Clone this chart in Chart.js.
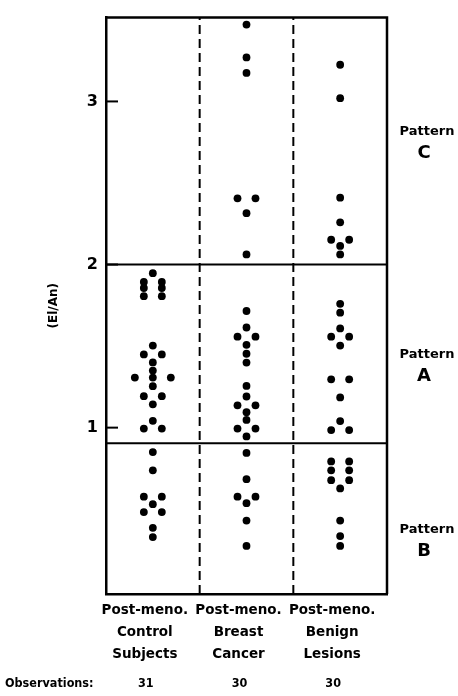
<!DOCTYPE html>
<html>
<head>
<meta charset="utf-8">
<script src="https://cdn.jsdelivr.net/npm/chart.js@4"></script>
<style>
  html, body { margin:0; padding:0; background:#fff; }
</style>
</head>
<body>
<canvas id="chart" width="458" height="696"></canvas>
<script>
// ---- values ----
const GROUPS = [
  ["Post-meno.", "Control", "Subjects"],
  ["Post-meno.", "Breast", "Cancer"],
  ["Post-meno.", "Benign", "Lesions"]
];
const OBSERVATIONS = [31, 30, 30];

// El/An ratio per subject (equal values sit side by side in a row)
const CONTROL = [1.947, 1.893, 1.893, 1.856, 1.856, 1.806, 1.806,
  1.503, 1.449, 1.449, 1.400, 1.350, 1.307, 1.307, 1.307, 1.254, 1.193, 1.193,
  1.143, 1.042, 0.994, 0.994,
  0.850, 0.738, 0.577, 0.577, 0.531, 0.482, 0.482, 0.386, 0.329];
const CANCER = [3.471, 3.270, 3.175, 2.406, 2.406, 2.315, 2.062,
  1.715, 1.614, 1.558, 1.558, 1.508, 1.453, 1.399, 1.256, 1.191, 1.137, 1.137,
  1.095, 1.047, 0.994, 0.994, 0.946,
  0.845, 0.684, 0.577, 0.577, 0.537, 0.430, 0.275];
const BENIGN = [3.225, 3.020, 2.410, 2.259, 2.152, 2.152, 2.114, 2.062,
  1.759, 1.705, 1.608, 1.558, 1.558, 1.503, 1.296, 1.296, 1.185, 1.040, 0.985, 0.985,
  0.793, 0.793, 0.738, 0.738, 0.678, 0.678, 0.627, 0.430, 0.335, 0.275];

const Y_TICKS = [1, 2, 3];
const PATTERN_CUTS = [0.905, 2];           // B | A | C boundaries
const PATTERNS = ["C", "A", "B"];
const PATTERN_AT = [2.75, 1.38, 0.31];     // where each pattern name sits

// ---- axis bounds ----
const X_MIN = -0.5, X_MAX = GROUPS.length - 0.5;
const Y_MIN = -0.02, Y_MAX = 3.514;
const SLOT = 0.096;   // side-by-side spacing of equal values

const FONT = "'DejaVu Sans', 'Liberation Sans', sans-serif";
const FONT_NARROW = "'DejaVu Sans Condensed', 'DejaVu Sans', sans-serif";

// spread equal values of a row across the column
function dotsFor(vals, col){
  const out = [];
  let i = 0;
  while (i < vals.length){
    let j = i;
    while (j < vals.length && vals[j] === vals[i]) j++;
    const n = j - i;
    const slots = n === 1 ? [0] : n === 2 ? [-1, 1] : [-2, 0, 2];
    for (let k = 0; k < n; k++) out.push({ x: col + slots[k] * SLOT, y: vals[i] });
    i = j;
  }
  return out;
}

const dotSet = (vals, col) => ({
  data: dotsFor(vals, col),
  backgroundColor: "#000", borderColor: "#000", borderWidth: 0,
  pointRadius: 3.9, pointHoverRadius: 3.9, showLine: false
});

const datasets = [
  dotSet(CONTROL, 0),
  dotSet(CANCER, 1),
  dotSet(BENIGN, 2)
];

// dashed dividers between groups
for (let i = 0; i < GROUPS.length - 1; i++){
  datasets.push({
    data: [{ x: i + 0.5, y: Y_MIN }, { x: i + 0.5, y: Y_MAX }],
    showLine: true, borderColor: "#000", borderWidth: 2, borderDash: [9, 5],
    pointRadius: 0
  });
}
// solid pattern boundaries
PATTERN_CUTS.forEach(c => {
  datasets.push({
    data: [{ x: X_MIN, y: c }, { x: X_MAX, y: c }],
    showLine: true, borderColor: "#000", borderWidth: 2, pointRadius: 0
  });
});

// frame, inward ticks, pattern names and observation counts
const extras = {
  id: "extras",
  afterDraw(chart){
    const { ctx, chartArea: a, scales: { x, y } } = chart;
    ctx.save();
    ctx.strokeStyle = "#000";
    ctx.lineWidth = 2.5;
    ctx.beginPath();
    ctx.moveTo(a.left, a.top); ctx.lineTo(a.right, a.top); ctx.lineTo(a.right, a.bottom);
    ctx.stroke();

    ctx.lineWidth = 2;
    Y_TICKS.forEach(t => {
      const py = y.getPixelForValue(t);
      ctx.beginPath(); ctx.moveTo(a.left, py); ctx.lineTo(a.left + 12, py); ctx.stroke();
    });

    ctx.fillStyle = "#000";
    ctx.textAlign = "center";
    ctx.textBaseline = "middle";
    PATTERNS.forEach((p, i) => {
      const py = y.getPixelForValue(PATTERN_AT[i]);
      ctx.font = "bold 13px " + FONT;
      ctx.fillText("Pattern", 427, py - 11);
      ctx.font = "900 18px " + FONT;
      ctx.fillText(p, 424, py + 11);
    });

    ctx.font = "bold 12.5px " + FONT_NARROW;
    ctx.textAlign = "left";
    ctx.fillText("Observations:", 5, 684);
    ctx.textAlign = "center";
    OBSERVATIONS.forEach((n, i) => {
      ctx.fillText(String(n), x.getPixelForValue(i) - 7, 684);
    });
    ctx.restore();
  }
};

new Chart(document.getElementById("chart"), {
  type: "scatter",
  data: { datasets },
  options: {
    responsive: false,
    animation: false,
    layout: { padding: { top: 9, right: 71, left: 0, bottom: 0 } },
    plugins: { legend: { display: false }, tooltip: { enabled: false } },
    scales: {
      x: {
        type: "linear", min: X_MIN, max: X_MAX,
        afterBuildTicks: s => { s.ticks = GROUPS.map((g, i) => ({ value: i })); },
        afterFit: s => { s.height = 102; },
        grid: { display: false, drawTicks: false },
        border: { display: true, color: "#000", width: 2.5 },
        ticks: {
          color: "#000", padding: 6, labelOffset: -8, maxRotation: 0,
          font: { family: FONT, weight: "bold", size: 13.5, lineHeight: 1.62 },
          callback: (v) => GROUPS[v] || ""
        }
      },
      y: {
        type: "linear", min: Y_MIN, max: Y_MAX,
        afterBuildTicks: s => { s.ticks = Y_TICKS.map(v => ({ value: v })); },
        afterFit: s => { s.width = 106; },
        grid: { display: false, drawTicks: false },
        border: { display: true, color: "#000", width: 2.5 },
        ticks: {
          color: "#000", padding: 8,
          font: { family: FONT, weight: "bold", size: 16 },
          callback: v => String(v)
        },
        title: {
          display: true, text: "(El/An)", color: "#000",
          font: { family: FONT, weight: "bold", size: 12 },
          padding: { top: 47, bottom: 0 }
        }
      }
    }
  },
  plugins: [extras]
});
</script>
</body>
</html>
